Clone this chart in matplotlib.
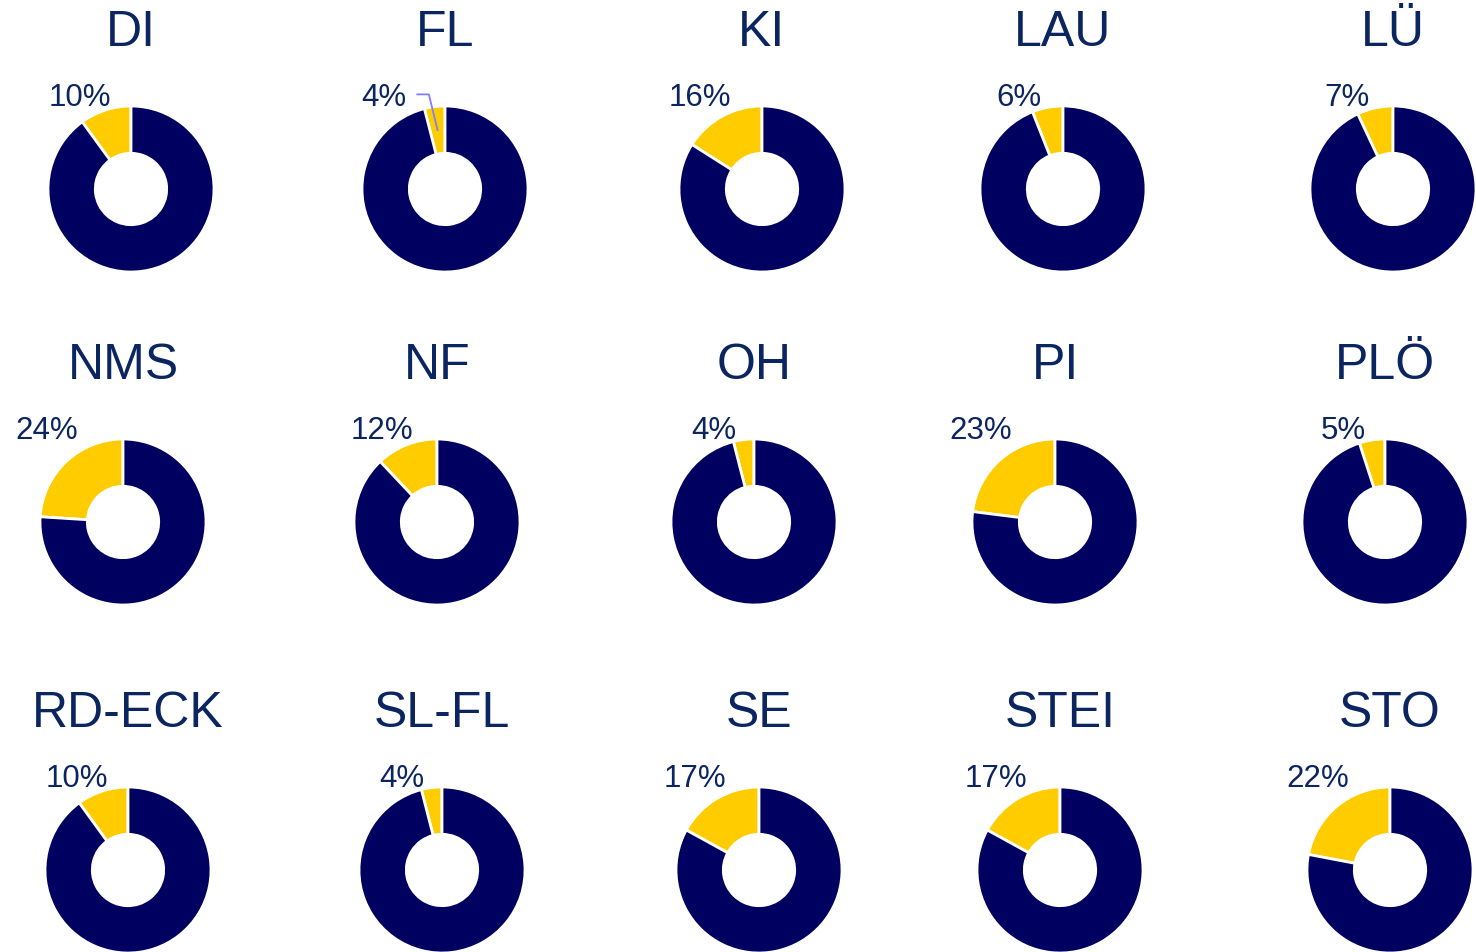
import numpy as np
import matplotlib
matplotlib.use("Agg")
import matplotlib.pyplot as plt

plt.rcParams['font.family'] = ['Liberation Sans', 'DejaVu Sans']

# Kreise und Anteile (in %)
kreise = ["DI", "FL", "KI", "LAU", "LÜ",
          "NMS", "NF", "OH", "PI", "PLÖ",
          "RD-ECK", "SL-FL", "SE", "STEI", "STO"]
anteil = [10, 4, 16, 6, 7,
          24, 12, 4, 23, 5,
          10, 4, 17, 17, 22]
mit_linie = ["FL"]  # nur hier wird ein Verbinder gezeichnet

gelb = "#ffcc00"
navy = "#000060"
textfarbe = "#0b2561"

W, H = 1476, 952
fig = plt.figure(figsize=(W / 100, H / 100), dpi=100)

R = 83.0        # Radius in Pixel
ext = 2.2       # Achsenausdehnung in Radien
col_x = [131, 445, 762, 1063, 1393]
row_y = [189, 522, 870]
row_dx = [0, -8, -3]

for i, (name, p) in enumerate(zip(kreise, anteil)):
    r, c = divmod(i, 5)
    cx = col_x[c] + row_dx[r]
    cy = row_y[r]
    half = R * ext
    ax = fig.add_axes([(cx - half) / W, 1 - (cy + half) / H, 2 * half / W, 2 * half / H])
    ax.pie([p, 100 - p], colors=[gelb, navy], startangle=90, counterclock=True,
           radius=1.0, wedgeprops=dict(width=0.57, edgecolor="white", linewidth=2))
    # pie() setzt eigene Grenzen, daher erst danach festlegen
    ax.set_xlim(-ext, ext)
    ax.set_ylim(-ext, ext)
    ax.set_aspect("equal")
    ax.axis("off")
    ax.text(0, 1.72, name, ha="center", va="baseline", fontsize=36, color=textfarbe)

    # Beschriftung links oberhalb des gelben Segments
    mid = 90 + p * 3.6 / 2
    lx = -(40 + (mid - 97)) / R
    ly = 1.0
    if name in mit_linie:
        lx -= 0.25
    ax.text(lx, ly, f"{p}%", ha="center", va="baseline", fontsize=22.5, color=textfarbe)
    if name in mit_linie:
        m = np.radians(mid)
        px, py = 0.715 * np.cos(m), 0.715 * np.sin(m)
        ax.plot([lx + 0.40, lx + 0.54, px], [ly + 0.14, ly + 0.14, py],
                color="#7f7fff", lw=1.3, clip_on=False)

fig.savefig("out.png", dpi=100, facecolor="white")
